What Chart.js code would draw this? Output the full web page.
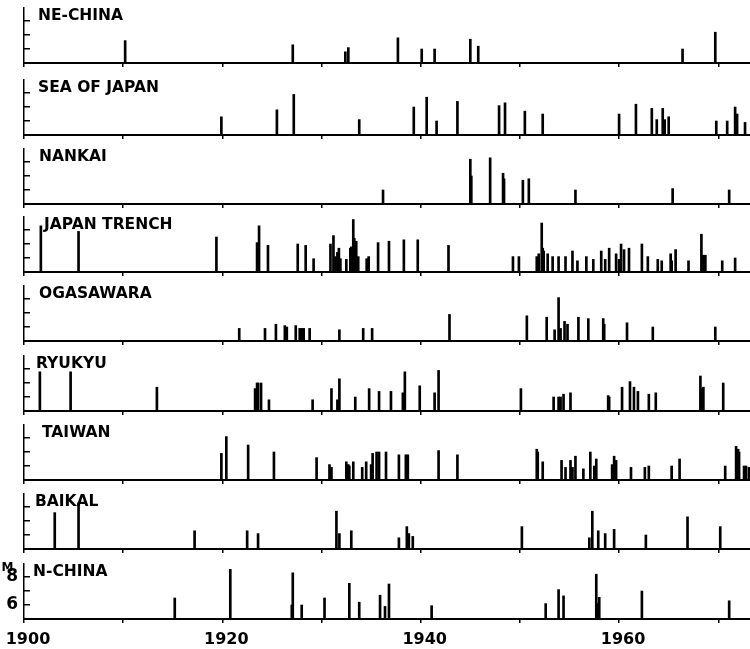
<!DOCTYPE html>
<html>
<head>
<meta charset="utf-8">
<script src="https://cdn.jsdelivr.net/npm/chart.js@4.4.0/dist/chart.umd.min.js"></script>
<style>
  html, body { margin: 0; padding: 0; background: #fff; }
  #wrap { position: relative; width: 750px; height: 649px; overflow: hidden; background: #fff; }
  #wrap canvas { position: absolute; left: 0; }
</style>
</head>
<body>
<div id="wrap"></div>
<script>
// regions, top to bottom
const regions = ['NE-CHINA', 'SEA OF JAPAN', 'NANKAI', 'JAPAN TRENCH', 'OGASAWARA', 'RYUKYU', 'TAIWAN', 'BAIKAL', 'N-CHINA'];

const neChinaYears = [1910.2, 1927.1, 1932.4, 1932.7, 1937.7, 1940.1, 1941.4, 1945.0, 1945.8, 1966.4, 1969.7];
const neChinaMags  = [6.6, 6.3, 5.8, 6.1, 6.8, 6.0, 6.0, 6.7, 6.2, 6.0, 7.2];

const seaJapanYears = [1919.9, 1925.5, 1927.2, 1933.8, 1939.3, 1940.6, 1941.6, 1943.7, 1947.9, 1948.5, 1950.5, 1952.3,
  1960.0, 1961.7, 1963.3, 1963.8, 1964.4, 1964.6, 1965.0, 1969.8, 1970.9, 1971.7, 1971.9, 1972.7];
const seaJapanMags  = [6.3, 6.8, 7.9, 6.1, 7.0, 7.7, 6.0, 7.4, 7.1, 7.3, 6.7, 6.5,
  6.5, 7.2, 6.9, 6.1, 6.9, 6.1, 6.3, 6.0, 6.0, 7.0, 6.5, 5.9];

const nankaiYears = [1936.2, 1945.0, 1945.1, 1947.0, 1948.3, 1948.4, 1950.3, 1950.9, 1955.6, 1965.4, 1971.1];
const nankaiMags  = [6.0, 8.2, 7.0, 8.3, 7.2, 6.8, 6.7, 6.8, 6.0, 6.1, 6.0];

const trenchYears = [1901.7, 1905.5, 1919.4, 1923.5, 1923.7, 1924.6, 1927.6, 1928.4, 1929.2, 1930.9, 1931.2, 1931.4,
  1931.6, 1931.75, 1931.9, 1932.5, 1932.9, 1933.0, 1933.2, 1933.3, 1933.5, 1933.7, 1934.55, 1934.75, 1935.7, 1936.8,
  1938.3, 1939.7, 1942.8, 1949.3, 1949.9, 1951.7, 1951.9, 1952.2, 1952.3, 1952.4, 1952.8, 1953.3, 1953.9, 1954.6,
  1955.3, 1955.8, 1956.7, 1957.4, 1958.2, 1958.6, 1959.0, 1959.7, 1960.0, 1960.2, 1960.5, 1961.0, 1962.3, 1962.9,
  1963.9, 1964.3, 1965.2, 1965.3, 1965.7, 1967.0, 1968.3, 1968.5, 1968.7, 1970.4, 1971.7];
const trenchMags  = [8.3, 7.9, 7.5, 7.1, 8.3, 6.9, 7.0, 6.9, 5.95, 7.0, 7.6, 6.1,
  6.4, 6.7, 5.95, 5.9, 6.7, 6.8, 8.75, 7.4, 7.2, 6.1, 5.95, 6.1, 7.1, 7.2,
  7.3, 7.3, 6.9, 6.1, 6.1, 6.1, 6.3, 8.5, 6.7, 6.5, 6.3, 6.1, 6.1, 6.1,
  6.5, 5.8, 6.1, 5.9, 6.5, 5.9, 6.7, 6.3, 5.9, 7.0, 6.6, 6.7, 7.0, 6.1,
  5.9, 5.8, 6.3, 5.8, 6.6, 5.8, 7.7, 6.2, 6.2, 5.8, 6.0];

const ogasawaraYears = [1921.7, 1924.3, 1925.4, 1926.3, 1926.5, 1927.4, 1927.8, 1928.0, 1928.2, 1928.8, 1931.8, 1934.2,
  1935.1, 1942.9, 1950.7, 1952.7, 1953.5, 1953.9, 1954.1, 1954.5, 1954.8, 1955.9, 1956.9, 1958.4, 1958.5, 1960.8,
  1963.4, 1969.7];
const ogasawaraMags  = [5.9, 5.9, 6.2, 6.1, 6.0, 6.1, 5.9, 5.9, 5.9, 5.9, 5.8, 5.9,
  5.9, 6.9, 6.8, 6.7, 5.8, 8.1, 5.9, 6.4, 6.2, 6.7, 6.6, 6.6, 6.2, 6.3,
  6.0, 6.0];

const ryukyuYears = [1901.6, 1904.7, 1913.4, 1923.3, 1923.5, 1923.6, 1923.9, 1924.7, 1929.1, 1931.0, 1931.6, 1931.8,
  1933.4, 1934.8, 1935.8, 1937.0, 1938.2, 1938.4, 1939.9, 1941.4, 1941.8, 1950.1, 1953.4, 1953.9, 1954.1, 1954.4,
  1955.1, 1958.9, 1959.0, 1960.3, 1961.1, 1961.5, 1961.9, 1963.0, 1963.7, 1968.2, 1968.3, 1968.5, 1970.5];
const ryukyuMags  = [7.8, 7.8, 6.7, 6.6, 7.0, 7.0, 7.0, 5.8, 5.8, 6.6, 5.8, 7.3,
  6.0, 6.6, 6.4, 6.4, 6.3, 7.8, 6.8, 6.3, 7.9, 6.6, 6.0, 6.0, 6.0, 6.2,
  6.3, 6.1, 6.0, 6.7, 7.1, 6.7, 6.4, 6.2, 6.3, 7.5, 6.6, 6.7, 7.0];

const taiwanYears = [1919.9, 1920.4, 1922.6, 1925.2, 1929.5, 1930.8, 1931.0, 1932.5, 1932.7, 1932.8, 1933.2, 1934.1,
  1934.5, 1935.0, 1935.15, 1935.55, 1935.8, 1936.5, 1937.8, 1938.5, 1938.7, 1941.8, 1943.7, 1951.7, 1951.8, 1952.3,
  1954.2, 1954.6, 1955.1, 1955.3, 1955.6, 1956.4, 1957.1, 1957.5, 1957.7, 1959.3, 1959.5, 1959.7, 1961.2, 1962.6,
  1963.0, 1965.3, 1966.1, 1970.7, 1971.8, 1972.0, 1972.1, 1972.6, 1972.8, 1973.1];
const taiwanMags  = [6.9, 8.1, 7.5, 7.0, 6.6, 6.1, 5.9, 6.3, 6.1, 6.0, 6.3, 5.9,
  6.3, 6.1, 6.9, 7.0, 7.0, 7.0, 6.8, 6.8, 6.8, 7.1, 6.8, 7.2, 7.0, 6.3,
  6.4, 5.9, 6.4, 5.9, 6.7, 5.8, 7.0, 6.0, 6.5, 6.1, 6.7, 6.4, 5.9, 5.9,
  6.0, 6.0, 6.5, 6.0, 7.4, 7.2, 7.0, 6.0, 6.0, 5.9];

const baikalYears = [1903.1, 1905.5, 1917.2, 1922.5, 1923.6, 1931.5, 1931.8, 1933.0, 1937.8, 1938.6, 1938.8, 1939.2,
  1950.2, 1957.0, 1957.3, 1957.9, 1958.6, 1959.5, 1962.7, 1966.9, 1970.2];
const baikalMags  = [7.6, 8.3, 6.3, 6.3, 6.1, 7.7, 6.1, 6.3, 5.8, 6.6, 6.1, 5.9,
  6.6, 5.8, 7.7, 6.3, 6.1, 6.4, 6.0, 7.3, 6.6];

const nChinaYears = [1915.2, 1920.8, 1927.0, 1927.1, 1928.0, 1930.3, 1932.8, 1933.8, 1935.9, 1936.4, 1936.8, 1941.1,
  1952.6, 1953.9, 1954.4, 1957.7, 1957.9, 1958.0, 1962.3, 1971.1];
const nChinaMags  = [6.5, 8.55, 6.0, 8.3, 6.0, 6.5, 7.55, 6.2, 6.7, 5.9, 7.5, 5.95,
  6.1, 7.1, 6.65, 8.2, 6.1, 6.55, 7.0, 6.3];

const yearsList = [neChinaYears, seaJapanYears, nankaiYears, trenchYears, ogasawaraYears, ryukyuYears, taiwanYears, baikalYears, nChinaYears];
const magsList  = [neChinaMags, seaJapanMags, nankaiMags, trenchMags, ogasawaraMags, ryukyuMags, taiwanMags, baikalMags, nChinaMags];

const magTickLabels  = [6, 8];
const yearTickLabels = [1900, 1920, 1940, 1960];

// layout: baseline of each panel (px) and x of its name
const baselines = [63, 135, 203.5, 272, 341, 411, 480, 548.5, 619];
const nameX = [38, 38, 39, 44, 39, 36, 42, 35, 33];
const plotH = 55;
const FONT = '"DejaVu Sans", "Liberation Sans", sans-serif';

const panelText = {
  id: 'panelText',
  afterDatasetsDraw(chart, args, opts) {
    const ctx = chart.ctx;
    const y = chart.scales.y;
    ctx.save();
    ctx.fillStyle = '#000';
    ctx.textBaseline = 'alphabetic';
    ctx.font = 'bold 15.5px ' + FONT;
    ctx.fillText(opts.text, opts.x, y.getPixelForValue(8.1));
    if (opts.unit) {
      ctx.font = 'bold 12px ' + FONT;
      ctx.fillText('M', 1.5, y.getPixelForValue(8) - 6);
    }
    ctx.restore();
  }
};

const wrap = document.getElementById('wrap');

regions.forEach(function (name, i) {
  const last = i === regions.length - 1;
  const padTop = last ? 8 : 3;
  const axisH = last ? 30 : 8;
  const c = document.createElement('canvas');
  c.width = 750;
  c.height = padTop + plotH + axisH;
  c.style.top = (baselines[i] - plotH - padTop) + 'px';
  wrap.appendChild(c);

  const pts = yearsList[i].map(function (yr, k) { return { x: yr, y: magsList[i][k] }; });

  new Chart(c, {
    type: 'bar',
    data: {
      datasets: [{
        data: pts,
        backgroundColor: '#000',
        borderWidth: 0,
        barThickness: 2
      }]
    },
    options: {
      responsive: false,
      animation: false,
      layout: { padding: { top: padTop, left: 0, right: 0, bottom: 0 } },
      plugins: {
        legend: { display: false },
        tooltip: { enabled: false },
        panelText: { text: name, x: nameX[i], unit: last }
      },
      scales: {
        x: {
          type: 'linear',
          min: 1900,
          max: 1973.2,
          offset: false,
          afterFit: function (s) {
            s.height = axisH;
            s.paddingLeft = 0; s.paddingRight = 0; s.paddingTop = 0; s.paddingBottom = 0;
          },
          border: { display: true, color: '#000', width: 2 },
          grid: { offset: false, drawOnChartArea: false, drawTicks: true, tickLength: 4, color: '#000', lineWidth: 1.5 },
          ticks: {
            stepSize: 10,
            includeBounds: false,
            autoSkip: false,
            maxRotation: 0,
            padding: 7,
            labelOffset: 4,
            color: '#000',
            font: { family: FONT, weight: 'bold', size: 16 },
            callback: function (v) { return last && yearTickLabels.includes(v) ? String(v) : ''; }
          }
        },
        y: {
          min: 5,
          max: 8.93,
          afterFit: function (s) {
            s.width = 24;
            s.paddingLeft = 0; s.paddingRight = 0; s.paddingTop = 0; s.paddingBottom = 0;
          },
          border: { display: true, color: '#000', width: 1.5 },
          grid: { drawOnChartArea: false, drawTicks: true, tickLength: -6, color: '#000', lineWidth: 1.5 },
          ticks: {
            stepSize: 1,
            includeBounds: false,
            autoSkip: false,
            padding: 12,
            color: '#000',
            font: { family: FONT, weight: 'bold', size: 17 },
            callback: function (v) { return last && magTickLabels.includes(v) ? String(v) : ''; }
          }
        }
      }
    },
    plugins: [panelText]
  });
});
</script>
</body>
</html>
